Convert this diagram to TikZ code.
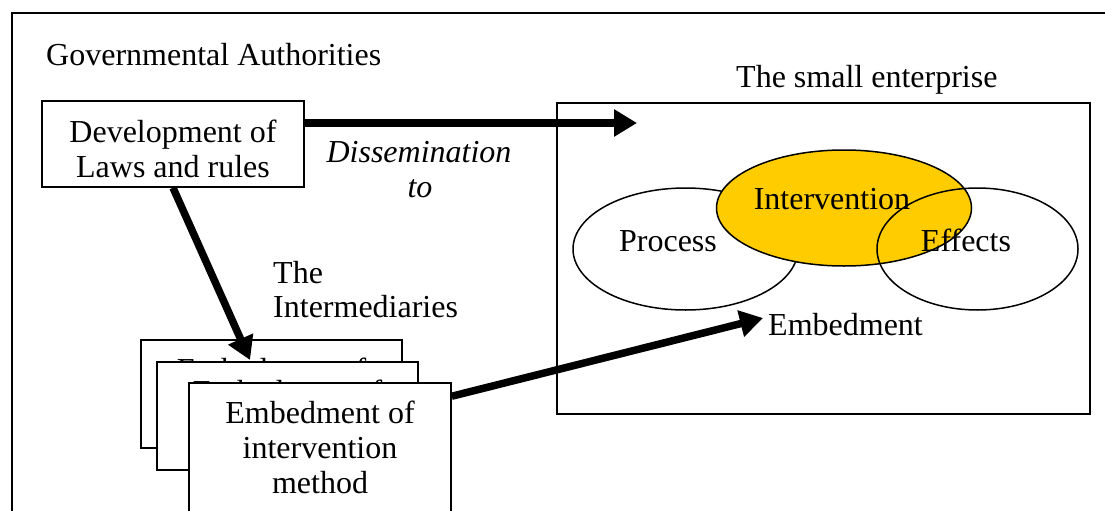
\documentclass[tikz,border=0pt]{standalone}
\usepackage{fontspec}
\setmainfont{Liberation Serif}
\usetikzlibrary{arrows.meta,shapes.geometric}
\definecolor{gold}{HTML}{FFCC00}
\begin{document}
\begin{tikzpicture}[x=1pt,y=-1pt,
  txt/.style={font=\fontsize{32}{35}\selectfont, inner sep=0pt, anchor=base},
  txtl/.style={txt, anchor=base west},
  boxn/.style={draw, line width=1.5pt, fill=white, inner sep=0pt},
  ell/.style={ellipse, draw, line width=1.5pt, inner sep=0pt},
  arr/.style={line width=7.5pt, -{Triangle[length=23pt,width=26pt]}},
]
\useasboundingbox (0,0) rectangle (1105,511);
\clip (0,0) rectangle (1105,511);
% outer frame
\draw[line width=1.5pt] (12,13) rectangle (1130,540);

\node[txtl] (gov) at (46,66) {Governmental Authorities};
\node[txtl] (sme) at (736,87) {The small enterprise};

% development box
\node[boxn, minimum width=262pt, minimum height=86pt] (dev) at (173,144) {};
\node[txt] (devt1) at (173,142) {Development of};
\node[txt] (devt2) at (173,177) {Laws and rules};

% small enterprise box
\node[boxn, fill=none, minimum width=533pt, minimum height=311pt] (smebox) at (823.5,258.5) {};

% dissemination label
\node[txt, font=\fontsize{32}{35}\selectfont\itshape] (dis1) at (419,162) {Dissemination};
\node[txt, font=\fontsize{32}{35}\selectfont\itshape] (dis2) at (420,197) {to};

% arrow 1
\coordinate (a1end) at (637,123);
\draw[arr] ([yshift=21pt]dev.east) -- (a1end);

% ellipses
\node[ell, minimum width=225pt, minimum height=122pt] (proc) at (685.5,249) {};
\node[ell, fill=gold, minimum width=255pt, minimum height=116pt] (interv) at (844,208) {};
\node[ell, minimum width=201pt, minimum height=122pt] (eff) at (977.5,249) {};
\node[txt] (proct) at (668,251) {Process};
\node[txt] (intervt) at (832,209) {Intervention};
\node[txt] (efft) at (966,251) {Effects};
\node[txtl] (emb) at (768,335) {Embedment};

% intermediaries
\node[txtl] (int1) at (273,283) {The};
\node[txtl] (int2) at (273,317) {Intermediaries};

% stacked boxes
\node[boxn, minimum width=261pt, minimum height=108pt] (box1) at (271.5,394) {};
\node[txt] (b1t1) at (271.5,380) {Embedment of};

\coordinate (a2end) at (250,360);
\draw[arr] (dev.south) -- (a2end);

\node[boxn, minimum width=261pt, minimum height=108pt] (box2) at (287.5,416) {};
\node[txt] (b2t1) at (287.5,402) {Embedment of};

\node[boxn, minimum width=262pt, minimum height=160pt] (box3) at (320,463) {};
\node[txt] (b3t1) at (320,423) {Embedment of};
\node[txt] (b3t2) at (320,458) {intervention};
\node[txt] (b3t3) at (320,493) {method};

% arrow 3
\coordinate (embtip) at (763,318);
\draw[arr] ([yshift=-14pt]box3.north east) -- (embtip);
\end{tikzpicture}
\end{document}
